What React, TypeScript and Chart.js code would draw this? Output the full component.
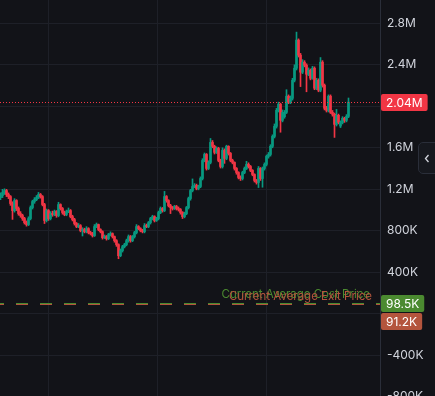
import React, { useEffect, useRef } from 'react';
import { Chart, registerables } from 'chart.js';
Chart.register(...registerables);

// Values in thousands (K)
const opens = [1120,1140,1169,1188,1150,1130,1063,995,1092,1015,
966,947,918,879,860,918,1024,1082,1101,1121,
1150,1130,1053,899,995,918,966,957,986,947,
1053,1015,976,957,986,995,937,908,870,841,
850,802,812,792,821,783,773,754,841,860,
812,792,734,744,725,763,773,744,705,667,
560,609,647,667,705,744,705,744,783,841,
821,802,792,850,841,879,918,937,899,918,
976,1015,995,1130,1092,1043,1024,1015,1034,1015,
1005,976,937,966,1024,1111,1188,1227,1237,1208,
1227,1304,1478,1536,1401,1459,1652,1614,1556,1594,
1478,1420,1575,1498,1614,1546,1478,1459,1401,1362,
1314,1304,1362,1401,1440,1420,1382,1343,1285,1266,
1401,1304,1401,1440,1517,1536,1614,1710,1807,1961,
2019,1865,1900,1942,2097,2039,2077,2251,2367,2638,
2493,2329,2425,2396,2309,2348,2271,2367,2174,2251,
2155,2425,2203,1981,1961,2097,1942,1923,1826,1913,
1810,1845,1884,1865,1903];
const highs = [1165,1200,1205,1200,1165,1140,1080,1110,1100,1030,
985,960,930,895,935,1040,1095,1120,1140,1170,
1160,1140,1065,1010,1005,985,990,1000,995,1075,
1060,1025,990,1000,1020,1005,950,920,880,870,
860,830,825,840,830,795,785,860,875,865,
820,800,760,755,775,790,780,750,715,675,
625,660,680,720,760,755,755,795,860,850,
830,815,870,865,890,930,950,945,930,990,
1030,1025,1180,1140,1100,1055,1035,1045,1045,1030,
1015,985,980,1035,1125,1200,1300,1255,1250,1240,
1320,1495,1550,1545,1475,1690,1670,1625,1610,1605,
1490,1600,1590,1625,1620,1555,1490,1465,1410,1370,
1330,1375,1415,1470,1455,1430,1390,1350,1295,1420,
1410,1415,1455,1530,1555,1630,1725,1830,1980,2040,
2030,1965,1960,2160,2110,2100,2270,2400,2715,2650,
2510,2450,2440,2410,2370,2360,2385,2380,2270,2265,
2470,2440,2215,2000,2110,2110,1960,1935,1970,1925,
1860,1900,1895,1920,2080];
const lows = [1100,1120,1150,1130,1110,1045,910,980,995,950,
930,900,865,845,850,905,1010,1065,1090,1110,
1115,1040,870,885,900,905,940,945,930,935,
1000,960,945,945,975,925,895,855,830,830,
790,750,780,780,770,760,740,745,830,800,
780,720,725,710,715,750,730,690,650,531,
550,595,635,655,690,690,695,730,770,810,
790,780,780,830,830,865,905,885,890,905,
965,980,985,1075,1030,966,1000,1005,1000,990,
960,918,925,955,1010,1095,1175,1215,1195,1195,
1215,1290,1465,1385,1390,1445,1600,1540,1545,1465,
1405,1405,1450,1485,1530,1465,1445,1385,1345,1300,
1285,1290,1350,1390,1405,1370,1330,1270,1250,1217,
1285,1220,1385,1425,1500,1520,1600,1695,1790,1945,
1750,1850,1885,1930,2025,2025,2060,2235,2350,2475,
2190,2315,2380,2140,2295,2255,2260,2160,2160,2140,
2140,2185,1965,1945,1945,1930,1905,1700,1810,1830,
1795,1830,1845,1850,1890];
const closes = [1140,1169,1188,1150,1130,1063,995,1092,1015,966,
947,918,879,860,918,1024,1082,1101,1121,1150,
1130,1053,899,995,918,966,957,986,947,1053,
1015,976,957,986,995,937,908,870,841,850,
802,812,792,821,783,773,754,841,860,812,
792,734,744,725,763,773,744,705,667,560,
609,647,667,705,744,705,744,783,841,821,
802,792,850,841,879,918,937,899,918,976,
1015,995,1130,1092,1043,1024,1015,1034,1015,1005,
976,937,966,1024,1111,1188,1227,1237,1208,1227,
1304,1478,1536,1401,1459,1652,1614,1556,1594,1478,
1420,1575,1498,1614,1546,1478,1459,1401,1362,1314,
1304,1362,1401,1440,1420,1382,1343,1285,1266,1401,
1304,1401,1440,1517,1536,1614,1710,1807,1961,2019,
1865,1942,1942,2097,2039,2077,2251,2367,2638,2493,
2329,2425,2396,2309,2348,2271,2367,2174,2251,2155,
2425,2203,1981,1961,2097,1942,1923,1826,1913,1845,
1845,1884,1865,1903,2040];

const yTickValues = [-800, -400, 0, 400, 800, 1200, 1600, 2000, 2400, 2800];
const hiddenTickValues = [0, 2000];
const xGridValues = [24, 78.5, 133];
const currentPrice = 2040;
const avgCostPrice = 98.5;
const avgExitPrice = 91.2;
const avgCostLabel = 'Current Average Cost Price';
const avgExitLabel = 'Current Average Exit Price';

const BG = '#121318';
const GRID = '#1e2028';
const UP = '#089981';
const DOWN = '#f23645';
const COST = '#4b8a30';
const EXIT = '#b4553d';
const FONT = 'Inter, "Noto Sans", sans-serif';

const fmtTick = (v: number) => (Math.abs(v) >= 1000 ? (v / 1000).toFixed(1) + 'M' : v + 'K');
const fmtBadge = (v: number) => (Math.abs(v) >= 1000 ? (v / 1000).toFixed(2) + 'M' : v.toFixed(1) + 'K');

export default function App() {
  const ref = useRef<HTMLCanvasElement | null>(null);
  useEffect(() => {
    document.body.style.margin = '0';
    document.body.style.background = BG;
    const colors = closes.map((c, i) => (c >= opens[i] ? UP : DOWN));
    const overlay = {
      id: 'overlay',
      afterDatasetsDraw(chart: any) {
        const { ctx, chartArea, scales } = chart;
        const y = scales.y;
        ctx.save();
        const py = Math.round(y.getPixelForValue(currentPrice)) + 0.5;
        ctx.strokeStyle = DOWN;
        ctx.lineWidth = 1;
        ctx.setLineDash([1, 2]);
        ctx.beginPath();
        ctx.moveTo(chartArea.left, py);
        ctx.lineTo(chartArea.right, py);
        ctx.stroke();
        ctx.setLineDash([12, 12]);
        ctx.lineDashOffset = 8;
        ctx.lineWidth = 1;
        const cy = Math.floor(y.getPixelForValue(avgCostPrice)) + 0.5;
        const ey = cy + 1;
        ctx.strokeStyle = COST;
        ctx.beginPath(); ctx.moveTo(chartArea.left, cy); ctx.lineTo(chartArea.right, cy); ctx.stroke();
        ctx.strokeStyle = EXIT;
        ctx.beginPath(); ctx.moveTo(chartArea.left, ey); ctx.lineTo(chartArea.right, ey); ctx.stroke();
        ctx.setLineDash([]);
        ctx.font = '11.5px ' + FONT;
        ctx.textAlign = 'right';
        ctx.textBaseline = 'alphabetic';
        ctx.fillStyle = COST;
        ctx.fillText(avgCostLabel, chartArea.right - 10, cy - 6);
        ctx.fillStyle = EXIT;
        ctx.fillText(avgExitLabel, chartArea.right - 8, ey - 5);
        ctx.restore();
      },
      afterDraw(chart: any) {
        const { ctx, chartArea, scales } = chart;
        const y = scales.y;
        ctx.save();
        ctx.font = '12px ' + FONT;
        const badge = (text: string, yc: number, bg: string) => {
          const w = ctx.measureText(text).width + 10;
          const h = 17;
          const x = chartArea.right + 1;
          ctx.fillStyle = bg;
          ctx.beginPath();
          ctx.roundRect(x, Math.round(yc - h / 2), w, h, 2);
          ctx.fill();
          ctx.fillStyle = '#ffffff';
          ctx.textAlign = 'left';
          ctx.textBaseline = 'middle';
          ctx.fillText(text, x + 5, Math.round(yc - h / 2) + h / 2 + 0.5);
          return Math.round(yc - h / 2) + h;
        };
        badge(fmtBadge(currentPrice), y.getPixelForValue(currentPrice), DOWN);
        const b1 = badge(fmtBadge(avgCostPrice), y.getPixelForValue(avgCostPrice), COST);
        badge(fmtBadge(avgExitPrice), b1 + 1 + 8.5, EXIT);
        ctx.restore();
      },
    };
    const chart = new Chart(ref.current as HTMLCanvasElement, {
      type: 'bar',
      data: {
        datasets: [
          {
            data: closes.map((c, i) => ({ x: i, y: [opens[i], c] })) as any,
            backgroundColor: colors,
            barThickness: 2,
            minBarLength: 1,
            grouped: false,
          } as any,
          {
            data: closes.map((c, i) => ({ x: i, y: [lows[i], highs[i]] })) as any,
            backgroundColor: colors,
            barThickness: 1,
            grouped: false,
          } as any,
        ],
      },
      plugins: [overlay],
      options: {
        animation: false,
        responsive: false,
        devicePixelRatio: 1,
        layout: { padding: 0 },
        plugins: { legend: { display: false }, tooltip: { enabled: false } },
        scales: {
          x: {
            type: 'linear',
            offset: false,
            min: -0.25,
            max: 189.75,
            ticks: { display: false },
            grid: { color: GRID, drawTicks: false, offset: false },
            border: { display: false },
            afterBuildTicks: (s: any) => { s.ticks = xGridValues.map((v) => ({ value: v })); },
            afterFit: (s: any) => { s.height = 0; s.paddingLeft = 0; s.paddingRight = 0; },
          },
          y: {
            position: 'right',
            min: -1023.6,
            max: 3024.6,
            ticks: {
              color: '#d1d4dc',
              font: { family: FONT, size: 12 },
              padding: 7,
              callback: (v: any) => (hiddenTickValues.includes(v) ? '' : fmtTick(v)),
            },
            grid: { color: GRID, drawTicks: false },
            border: { color: '#2a2e39' },
            afterBuildTicks: (s: any) => { s.ticks = yTickValues.map((v) => ({ value: v })); },
            afterFit: (s: any) => { s.width = 55; s.paddingTop = 0; s.paddingBottom = 0; },
          },
        },
      } as any,
    });
    return () => chart.destroy();
  }, []);
  return (
    <div style={{ position: 'relative', width: 435, height: 396, overflow: 'hidden', background: BG }}>
      <canvas ref={ref} width={435} height={420} style={{ display: 'block' }} />
      <div
        style={{
          position: 'absolute', left: 418, top: 142, width: 22, height: 32,
          border: '1px solid #2a2e39', borderRadius: 5, background: '#16181e',
          boxSizing: 'border-box', display: 'flex', alignItems: 'center', paddingLeft: 5,
        }}
      >
        <svg width="6" height="9" viewBox="0 0 6 9">
          <polyline points="4.5,1 1.5,4.5 4.5,8" fill="none" stroke="#d1d4dc" strokeWidth="1.3" />
        </svg>
      </div>
    </div>
  );
}
